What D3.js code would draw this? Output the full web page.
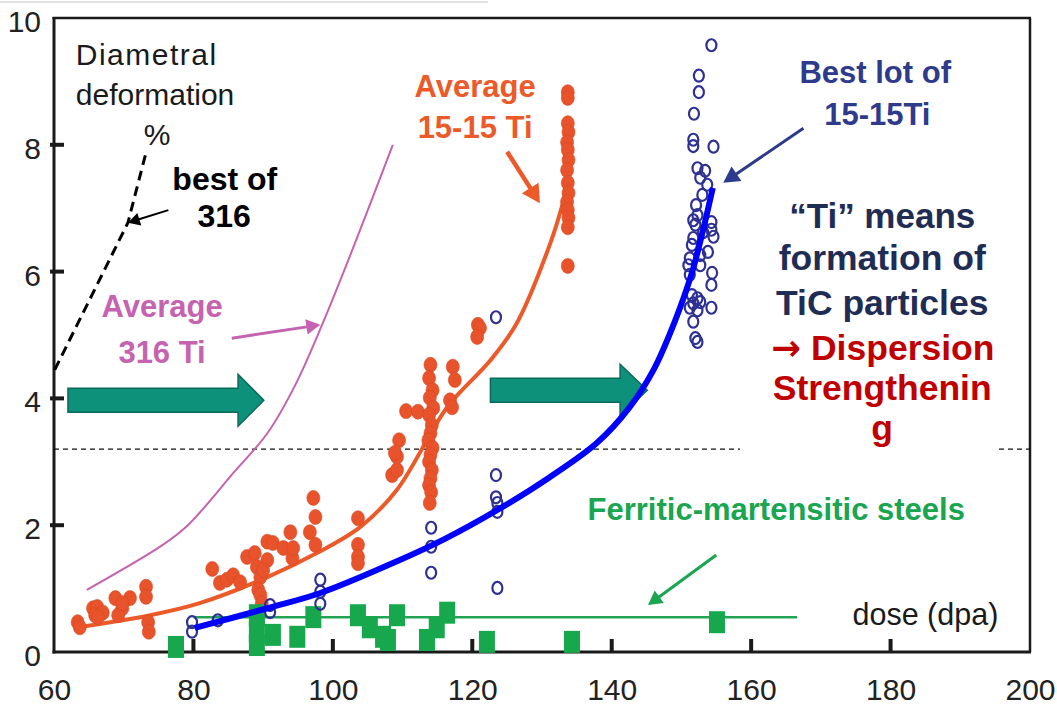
<!DOCTYPE html>
<html>
<head>
<meta charset="utf-8">
<script src="https://cdn.jsdelivr.net/npm/d3@7"></script>
<style>
  body { margin: 0; background: #fff; overflow: hidden; }
  svg { display: block; }
  text { font-family: "Liberation Sans", Arial, Helvetica, sans-serif; }
</style>
</head>
<body>
<svg id="chart"></svg>
<script>
var width = 1057,
    height = 707;

// axis ticks
var xTicks = [60, 80, 100, 120, 140, 160, 180, 200];
var yTicks = [0, 2, 4, 6, 8, 10];

// Average 15-15 Ti : measured points (dose dpa, diametral deformation %)
var avg1515Dots = [
  [63.4,0.47],[63.7,0.39],[65.6,0.69],[66.2,0.71],[65.9,0.58],[67.0,0.62],[66.3,0.55],
  [68.8,0.85],[69.8,0.69],[69.2,0.58],[70.9,0.85],[69.8,0.77],
  [73.2,1.03],[73.2,0.87],[73.5,0.47],[73.6,0.32],
  [82.7,1.31],[83.8,1.09],[84.8,1.14],[85.7,1.21],[86.7,1.10],
  [87.7,1.50],[88.8,1.56],[89.1,1.34],[89.6,1.18],[89.3,0.98],[89.6,0.90],[89.8,0.77],
  [90.6,1.74],[91.4,1.72],[90.6,1.45],[90.0,1.29],
  [92.9,1.64],[93.9,1.89],[94.2,1.48],[94.3,1.64],
  [97.2,2.43],[97.5,2.13],[96.7,1.89],[97.5,1.69],
  [103.6,2.11],[103.6,1.69],[103.6,1.50],[103.6,1.40],
  [108.5,2.79],[109.2,2.87],[109.2,3.08],[109.5,3.34],[108.9,3.14],
  [110.5,3.80],[112.2,3.79],
  [114.0,4.53],[113.8,4.32],[114.3,4.13],[113.9,4.01],[114.4,3.85],[113.8,3.74],
  [114.2,3.58],[114.0,3.45],[113.7,3.34],[114.3,3.22],[114.0,3.11],[113.8,3.00],
  [114.2,2.87],[114.0,2.74],[113.8,2.63],[114.1,2.52],[113.9,2.35],
  [117.2,4.50],[117.5,4.29],[116.8,3.97],[117.1,3.86],
  [120.8,5.16],[121.1,5.11],[120.7,4.97],
  [133.7,8.83],[133.7,8.74],[133.7,8.34],[133.8,8.20],[133.6,8.04],[133.7,7.92],
  [133.8,7.76],[133.6,7.60],[133.7,7.40],[133.8,7.24],[133.6,7.10],[133.7,6.97],
  [133.8,6.85],[133.7,6.70],[133.7,6.09]
];

// Average 15-15 Ti : trend line
var avg1515Fit = [
  [63.4,0.39],[73.8,0.58],[80.9,0.77],[90.6,1.18],[97.7,1.56],[103.9,1.97],
  [109.2,2.56],[116.4,3.86],[122.6,4.60],[126.4,5.19],[131.2,6.45],[133.0,7.08]
];

// Best lot of 15-15Ti : measured points
var best1515Circles = [
  [79.8,0.47],[79.8,0.32],[83.5,0.50],[91.0,0.63],[91.0,0.74],
  [98.2,1.14],[98.2,0.95],[98.2,0.76],
  [114.1,1.96],[114.1,1.66],[114.1,1.25],
  [123.4,5.28],[123.4,2.79],[123.4,2.44],[123.6,2.35],[123.6,2.21],[123.6,1.01],
  [154.3,9.57],[152.5,9.09],[152.5,8.83],[151.8,8.49],[151.7,8.08],[151.7,7.98],
  [154.6,7.97],[152.3,7.63],[153.4,7.59],[152.7,7.48],[153.7,7.37],[153.0,7.21],
  [152.1,7.05],[152.3,6.89],[151.7,6.81],[152.0,6.74],[154.3,6.78],[154.3,6.66],
  [154.6,6.55],[153.1,6.62],[151.7,6.53],[151.5,6.42],[153.8,6.31],[152.7,6.26],
  [151.2,6.21],[151.0,6.10],[152.7,6.10],[151.2,5.95],[154.4,5.98],[154.3,5.79],
  [151.5,5.63],[152.3,5.58],[151.7,5.50],[152.7,5.52],[151.2,5.43],[152.3,5.39],
  [154.3,5.43],[151.7,5.21],[152.0,4.95],[152.3,4.89]
];

// Best lot of 15-15Ti : trend line
var best1515Fit = [
  [80.2,0.38],[90.6,0.69],[98.2,0.93],[109.6,1.45],[116.0,1.78],[123.6,2.24],
  [131.0,2.75],[137.9,3.30],[142.5,3.85],[146.0,4.45],[149.0,5.20],[151.5,5.98],
  [153.2,6.70],[154.5,7.32]
];

// Average 316 Ti
var avg316Ti = [
  [64.7,0.98],[75.6,1.69],[79.2,2.00],[85.7,2.82],[90.6,3.45],[94.6,4.21],
  [98.45,5.16],[102.5,6.26],[108.6,8.00]
];

// best of 316
var best316 = [[60.1,4.45],[70.6,6.77],[73.3,7.92]];

// Ferritic-martensitic steels
var fmSquares = [
  [77.5,0.08],[89.1,0.58],[89.1,0.32],[89.1,0.11],[91.4,0.27],[94.9,0.24],
  [97.2,0.55],[103.6,0.58],[105.3,0.39],[107.2,0.24],[109.2,0.58],[107.9,0.19],
  [113.5,0.19],[114.9,0.39],[116.4,0.62],[122.1,0.16],[134.3,0.16],[155.1,0.47]
];
var fmLine = [[80,0.55],[166.6,0.55]];

// dashed reference level
var refLevel = 3.2;

var svg = d3.select("#chart")
  .attr("width", width)
  .attr("height", height);

var x = d3.scaleLinear().domain([60, 200]).range([54, 1030]);
var y = d3.scaleLinear().domain([0, 10]).range([652, 18]);

var line = d3.line()
  .x(function(d) { return x(d[0]); })
  .y(function(d) { return y(d[1]); });

// frame and inward ticks
var frame = svg.append("g").attr("stroke", "#1a1a1a");
frame.append("line").attr("x1", x(60)).attr("x2", x(60)).attr("y1", y(10) - 1).attr("y2", y(0) + 1.5)
  .attr("stroke-width", 3);
frame.append("line").attr("x1", x(60) - 1.5).attr("x2", x(200) + 1).attr("y1", y(0)).attr("y2", y(0))
  .attr("stroke-width", 3);
frame.append("line").attr("x1", x(60) - 1.5).attr("x2", x(200) + 1).attr("y1", y(10)).attr("y2", y(10))
  .attr("stroke-width", 2.5);
frame.append("line").attr("x1", x(200)).attr("x2", x(200)).attr("y1", y(10)).attr("y2", y(0))
  .attr("stroke-width", 2.5);
frame.selectAll(".xt")
  .data(xTicks.slice(1, -1))
  .enter().append("line")
  .attr("class", "xt")
  .attr("x1", function(d) { return x(d); }).attr("x2", function(d) { return x(d); })
  .attr("y1", y(0)).attr("y2", y(0) - 13)
  .attr("stroke-width", 4);
frame.selectAll(".yt")
  .data(yTicks.slice(1, -1))
  .enter().append("line")
  .attr("class", "yt")
  .attr("x1", x(60) - 4).attr("x2", x(60) + 10)
  .attr("y1", function(d) { return y(d); }).attr("y2", function(d) { return y(d); })
  .attr("stroke-width", 4);

// faint strip at the very top (scan edge)
svg.append("line")
  .attr("x1", 0).attr("x2", 488).attr("y1", 2).attr("y2", 2)
  .attr("stroke", "#e2e2e2").attr("stroke-width", 2);

// dashed level line
svg.append("line")
  .attr("x1", x(60)).attr("x2", x(200))
  .attr("y1", y(refLevel)).attr("y2", y(refLevel))
  .attr("stroke", "#111")
  .attr("stroke-width", 1.3)
  .attr("stroke-dasharray", "5,4");

// white box behind the note on the right
svg.append("rect")
  .attr("x", x(158.4)).attr("y", y(7.1))
  .attr("width", x(195.5) - x(158.4)).attr("height", y(3.05) - y(7.1))
  .attr("fill", "#fff");

// best of 316
svg.append("path")
  .datum(best316)
  .attr("d", line.curve(d3.curveLinear))
  .attr("fill", "none")
  .attr("stroke", "#000")
  .attr("stroke-width", 3)
  .attr("stroke-dasharray", "10,6");

// average 316 Ti
svg.append("path")
  .datum(avg316Ti)
  .attr("d", line.curve(d3.curveCatmullRom.alpha(0.5)))
  .attr("fill", "none")
  .attr("stroke", "#c663b0")
  .attr("stroke-width", 2);

// average 15-15 Ti trend
svg.append("path")
  .datum(avg1515Fit)
  .attr("d", line.curve(d3.curveCatmullRom.alpha(0.5)))
  .attr("fill", "none")
  .attr("stroke", "#ec5a2a")
  .attr("stroke-width", 4);

svg.append("g").selectAll("ellipse")
  .data(avg1515Dots)
  .enter().append("ellipse")
  .attr("cx", function(d) { return x(d[0]); })
  .attr("cy", function(d) { return y(d[1]); })
  .attr("rx", 6.5).attr("ry", 7.5)
  .attr("fill", "#e8532b")
  .attr("stroke", "#d84822")
  .attr("stroke-width", 0.6);

// ferritic-martensitic
svg.append("path")
  .datum(fmLine)
  .attr("d", line.curve(d3.curveLinear))
  .attr("fill", "none")
  .attr("stroke", "#22a454")
  .attr("stroke-width", 2.5);

svg.append("g").selectAll("rect")
  .data(fmSquares)
  .enter().append("rect")
  .attr("x", function(d) { return x(d[0]) - 8; })
  .attr("y", function(d) { return y(d[1]) - 11; })
  .attr("width", 16).attr("height", 22)
  .attr("fill", "#17a84e");

// best lot 15-15Ti
svg.append("g").selectAll("ellipse")
  .data(best1515Circles)
  .enter().append("ellipse")
  .attr("cx", function(d) { return x(d[0]); })
  .attr("cy", function(d) { return y(d[1]); })
  .attr("rx", 5).attr("ry", 6)
  .attr("fill", "none")
  .attr("stroke", "#2e3192")
  .attr("stroke-width", 2.2);

// big teal arrows
var tealArrows = [
  {x0: 62.0, x1: 86.4, xt: 90.1, yc: 3.97},
  {x0: 122.6, x1: 141.2, xt: 145.1, yc: 4.13}
];
svg.append("g").selectAll("polygon")
  .data(tealArrows)
  .enter().append("polygon")
  .attr("points", function(a) {
    var pts = [
      [x(a.x0), y(a.yc) - 12], [x(a.x1), y(a.yc) - 12], [x(a.x1), y(a.yc) - 26],
      [x(a.xt), y(a.yc)],
      [x(a.x1), y(a.yc) + 26], [x(a.x1), y(a.yc) + 12], [x(a.x0), y(a.yc) + 12]
    ];
    return pts.map(function(p) { return p.join(","); }).join(" ");
  })
  .attr("fill", "#0d917b")
  .attr("stroke", "#0a6b5b")
  .attr("stroke-width", 1.5);

svg.append("path")
  .datum(best1515Fit)
  .attr("d", line.curve(d3.curveCatmullRom.alpha(0.5)))
  .attr("fill", "none")
  .attr("stroke", "#0000ff")
  .attr("stroke-width", 6);

// tick labels
var gx = svg.append("g").attr("transform", "translate(0," + y(0) + ")")
  .call(d3.axisBottom(x).tickValues(xTicks).tickSize(0).tickPadding(27));
var gy = svg.append("g").attr("transform", "translate(" + x(60) + ",0)")
  .call(d3.axisLeft(y).tickValues(yTicks).tickSize(0).tickPadding(13));
[gx, gy].forEach(function(g) {
  g.select(".domain").remove();
  g.selectAll(".tick text")
    .attr("fill", "#222")
    .style("font-size", "30px")
    .style("font-family", "'Liberation Sans', Arial, sans-serif");
});
gy.selectAll(".tick text").attr("dy", "0.45em");

// pointer arrows
var pointers = [
  {x1: 76.4, y1: 6.97, x2: 70.6, y2: 6.77, color: "#000", w: 2, head: 12},
  {x1: 85.5, y1: 4.95, x2: 98.2, y2: 5.16, color: "#c663b0", w: 3, head: 14},
  {x1: 125.0, y1: 7.89, x2: 129.7, y2: 7.08, color: "#ec5a2a", w: 4.5, head: 18},
  {x1: 167.5, y1: 8.26, x2: 156.0, y2: 7.40, color: "#2e3a8c", w: 3, head: 16},
  {x1: 155.0, y1: 1.53, x2: 145.2, y2: 0.74, color: "#1aa550", w: 3, head: 14}
];
var pg = svg.append("g");
pointers.forEach(function(p) {
  var ax = x(p.x1), ay = y(p.y1), bx = x(p.x2), by = y(p.y2);
  var ang = Math.atan2(by - ay, bx - ax);
  var h = p.head, hw = h * 0.55;
  var baseX = bx - h * Math.cos(ang), baseY = by - h * Math.sin(ang);
  pg.append("line")
    .attr("x1", ax).attr("y1", ay)
    .attr("x2", baseX + 2 * Math.cos(ang)).attr("y2", baseY + 2 * Math.sin(ang))
    .attr("stroke", p.color).attr("stroke-width", p.w);
  pg.append("polygon")
    .attr("points", [
      [bx, by],
      [baseX - hw * Math.sin(ang), baseY + hw * Math.cos(ang)],
      [baseX + hw * Math.sin(ang), baseY - hw * Math.cos(ang)]
    ].map(function(q) { return q.join(","); }).join(" "))
    .attr("fill", p.color);
});

// labels
var labels = [
  {t: "Diametral", x: 73.3, y: 9.26, c: "#1a1a1a", s: 30, w: "normal", ls: 1.5},
  {t: "deformation", x: 74.5, y: 8.63, c: "#1a1a1a", s: 30, w: "normal"},
  {t: "%", x: 74.8, y: 8.0, c: "#1a1a1a", s: 30, w: "normal"},
  {t: "best of", x: 84.5, y: 7.29, c: "#000", s: 32, w: "bold"},
  {t: "316", x: 84.4, y: 6.70, c: "#000", s: 32, w: "bold"},
  {t: "Average", x: 75.5, y: 5.28, c: "#c663b0", s: 31, w: "bold"},
  {t: "316 Ti", x: 75.5, y: 4.56, c: "#c663b0", s: 31, w: "bold"},
  {t: "Average", x: 120.4, y: 8.75, c: "#ec5a2a", s: 31, w: "bold"},
  {t: "15-15 Ti", x: 120.4, y: 8.11, c: "#ec5a2a", s: 31, w: "bold"},
  {t: "Best lot of", x: 177.8, y: 8.97, c: "#2e3a8c", s: 31, w: "bold"},
  {t: "15-15Ti", x: 178.1, y: 8.31, c: "#2e3a8c", s: 31, w: "bold"},
  {t: "\u201CTi\u201D means", x: 178.8, y: 6.69, c: "#1f2d55", s: 35, w: "bold"},
  {t: "formation of", x: 178.8, y: 6.03, c: "#1f2d55", s: 35.5, w: "bold"},
  {t: "TiC particles", x: 178.8, y: 5.32, c: "#1f2d55", s: 35.5, w: "bold"},
  {t: "Strengthenin", x: 178.8, y: 3.97, c: "#c00000", s: 35.5, w: "bold"},
  {t: "g", x: 178.8, y: 3.34, c: "#c00000", s: 35.5, w: "bold"},
  {t: "Ferritic-martensitic steels", x: 163.6, y: 2.08, c: "#1aa550", s: 31, w: "bold"},
  {t: "dose (dpa)", x: 185.0, y: 0.43, c: "#1a1a1a", s: 30.5, w: "normal"}
];
svg.append("g").selectAll("text")
  .data(labels)
  .enter().append("text")
  .attr("x", function(d) { return x(d.x); })
  .attr("y", function(d) { return y(d.y); })
  .attr("text-anchor", "middle")
  .attr("fill", function(d) { return d.c; })
  .style("font-size", function(d) { return d.s + "px"; })
  .style("font-weight", function(d) { return d.w; })
  .style("letter-spacing", function(d) { return (d.ls || 0) + "px"; })
  .text(function(d) { return d.t; });

// arrow + Dispersion line (arrow glyph from DejaVu for a heavier shape)
var disp = svg.append("text")
  .attr("x", x(178.9))
  .attr("y", y(4.61))
  .attr("text-anchor", "middle")
  .attr("fill", "#c00000")
  .style("font-size", "35.5px")
  .style("font-weight", "bold");
disp.append("tspan")
  .style("font-family", "'DejaVu Sans', sans-serif")
  .text("\u2192");
disp.append("tspan").text(" Dispersion");
</script>
</body>
</html>
